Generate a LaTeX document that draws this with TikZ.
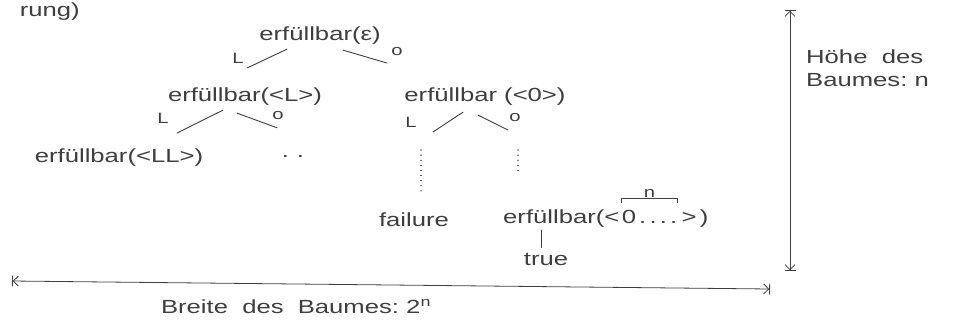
\documentclass[tikz,border=0pt]{standalone}
\usepackage{fontspec}
\newfontfamily\handfont[FakeStretch=1.35]{Liberation Sans}
\usetikzlibrary{arrows.meta,calc}
\definecolor{pencil}{RGB}{62,62,62}
\begin{document}
\begin{tikzpicture}[x=1pt,y=-1pt,
  hand/.style={font=\handfont\fontsize{19}{23}\selectfont, text=pencil, inner sep=0pt},
  lbl/.style={font=\handfont\fontsize{15}{17}\selectfont, text=pencil, inner sep=0pt},
  branch/.style={draw=pencil, line width=0.9pt, line cap=round},
  dotline/.style={draw=pencil, line width=1.1pt, dash pattern=on 0.1pt off 5pt, line cap=round},
  dimarrow/.style={draw=pencil, line width=0.8pt,
    arrows={Bar[width=11pt,sep=0pt]Straight Barb[length=5pt,width=10pt,sep=0pt]}-{Straight Barb[length=5pt,width=10pt,sep=0pt]Bar[width=11pt,sep=0pt]}}]
\useasboundingbox (0,0) rectangle (955,327);

% nodes
\node[hand, anchor=base east] (frag) at (80,16) {rung)};
\node[hand, anchor=base] (root) at (320,40) {erfüllbar(ε)};
\node[hand, anchor=base] (cL) at (245,101) {erfüllbar(<L>)};
\node[hand, anchor=base] (c0) at (485,101) {erfüllbar (<0>)};
\node[hand, anchor=base] (cLL) at (119,162) {erfüllbar(<LL>)};
\node[hand] (dots) at (293,156) {.\hspace{8pt}.};
\node[hand, anchor=base] (fail) at (414,226) {failure};
\node[hand, anchor=base west] (e1) at (503,223) {erfüllbar(<};
\node[hand, anchor=base west] (e2) at ([xshift=2pt]e1.base east) {0\,.\,.\,.\,.};
\node[hand, anchor=base west] (e3) at ([xshift=4pt]e2.base east) {>\,)};
\node[hand, anchor=base] (tru) at (546,265) {true};
\node[hand, anchor=base] (breite) at (296,313) {Breite\ \ des\ \ Baumes:\ 2\textsuperscript{n}};
\node[hand, anchor=north west, align=left] (hoehe) at (806,50) {Höhe\ \ des\\Baumes:\ n};

\coordinate (dL) at (421,150);
\coordinate (dR) at (518,150);

% tree branches
\draw[branch] ($(root.south)+(-33,5)$) -- ($(cL.north)+(2,-19)$)
  node[lbl, at end, xshift=-9pt, yshift=10pt] {L};
\draw[branch] ($(root.south)+(23,6)$) -- ($(c0.north)+(-98,-24)$)
  node[lbl, at end, xshift=10pt, yshift=11pt] {o};
\draw[branch] ($(cL.south)+(-22,5)$) -- ($(cLL.north)+(58,-15)$)
  node[lbl, at end, xshift=-14pt, yshift=15pt] {L};
\draw[branch] ($(cL.south)+(-8,8)$) -- ($(dots.north)+(-16,-27)$)
  node[lbl, at end, xshift=1pt, yshift=12pt] {o};
\draw[branch] ($(c0.south)+(-22,7)$) -- ($(dL)+(12,-18)$)
  node[lbl, at end, xshift=-22pt, yshift=10pt] {L};
\draw[branch] ($(c0.south)+(-7,10)$) -- ($(dR)+(-10,-20)$)
  node[lbl, at end, xshift=7pt, yshift=12pt] {o};

% dotted continuations
\draw[dotline] (dL) -- ($(fail.north)+(7,-19)$);
\draw[dotline] (dR) -- ($(e1.north west)+(15,-35)$);

% tick to true
\draw[branch] ($(e1.south west)+(38,3)$) -- ($(tru.north)+(-5,-5)$);

% overline with n
\draw[branch] ([yshift=7pt]e2.north west) -- ([yshift=11pt]e2.north west)
  -- ([yshift=11pt]e2.north east) node[lbl, midway, above=1pt] {n}
  -- ([yshift=7pt]e2.north east);

% dimension arrows
\coordinate (hl) at (12,281);
\coordinate (hr) at (770,289);
\draw[dimarrow] (hl) -- (hr);
\coordinate (vt) at (790,10);
\coordinate (vb) at (790,271);
\draw[dimarrow] (vt) -- (vb);
\end{tikzpicture}
\end{document}
